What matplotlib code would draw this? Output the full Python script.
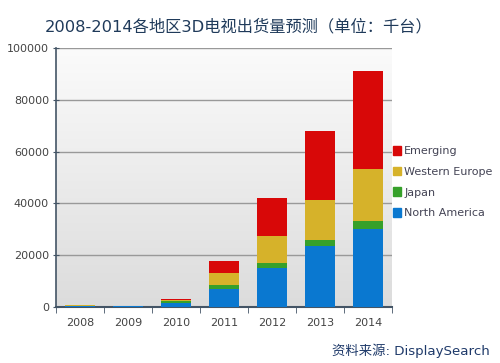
import matplotlib
matplotlib.use("Agg")
import matplotlib.pyplot as plt
import numpy as np
from matplotlib.patches import Patch
from matplotlib.colors import LinearSegmentedColormap

years = ["2008", "2009", "2010", "2011", "2012", "2013", "2014"]
north_america = [400, 300, 1700, 7000, 15200, 23700, 30000]
japan = [100, 100, 500, 1500, 1800, 2300, 3200]
western_europe = [400, 200, 500, 4500, 10500, 15500, 20000]
emerging = [0, 0, 600, 4900, 14500, 26500, 38000]

series = [("North America", north_america, "#0a78d0"),
          ("Japan", japan, "#36a02a"),
          ("Western Europe", western_europe, "#d6b22a"),
          ("Emerging", emerging, "#d80808")]

plt.rcParams['font.family'] = ['DejaVu Sans', 'Noto Sans CJK SC']

fig = plt.figure(figsize=(5.0, 3.63), dpi=100)
ax = fig.add_axes([0.112, 0.154, 0.672, 0.714])

x = np.arange(len(years))
bottom = np.zeros(len(years))
for name, vals, col in series:
    ax.bar(x, vals, width=0.63, bottom=bottom, color=col, label=name, zorder=3)
    bottom += np.array(vals)

ax.set_xlim(-0.5, 6.5)
ax.set_ylim(0, 100000)

grad = np.linspace(0, 1, 256).reshape(-1, 1)
cmap = LinearSegmentedColormap.from_list("bg", ["#dcdcdc", "#fbfbfb"])
ax.imshow(grad, extent=[-0.5, 6.5, 0, 100000], aspect='auto', cmap=cmap,
          origin='lower', zorder=0)

ax.set_yticks(np.arange(0, 100001, 20000))
ax.set_yticklabels([str(v) for v in range(0, 100001, 20000)], fontsize=8, color="#444444")
ax.yaxis.grid(True, color="#999999", linewidth=1.0, zorder=1)
ax.set_xticks(x)
ax.set_xticklabels(years, fontsize=8, color="#444444")
ax.set_xticks(np.arange(-0.5, 6.6, 1), minor=True)
ax.tick_params(axis='x', which='major', length=0, pad=8)
ax.tick_params(axis='x', which='minor', length=4, color="#445566", direction='out')
ax.tick_params(axis='y', length=4, color="#445566", direction='inout', pad=3)

for s in ["top", "right"]:
    ax.spines[s].set_visible(False)
ax.spines["left"].set_color("#445566")
ax.spines["bottom"].set_color("#445566")
ax.spines["left"].set_linewidth(1.2)
ax.spines["bottom"].set_linewidth(1.5)

handles = [Patch(color=c, label=n) for n, _, c in series][::-1]
fig.legend(handles=handles, loc='upper left', bbox_to_anchor=(0.765, 0.625),
           frameon=False, handlelength=0.8, handleheight=0.8,
           handletextpad=0.25, labelspacing=0.95, labelcolor="#444455",
           prop={'family': 'DejaVu Sans', 'size': 8})

fig.text(0.09, 0.928, "2008-2014各地区3D电视出货量预测（单位：千台）", fontsize=11.7,
         color="#1f3a5a", ha='left', va='center')
fig.text(0.98, 0.035, "资料来源: DisplaySearch", fontsize=9.6, color="#1f3a6a",
         ha='right', va='center')

fig.savefig("out.png", dpi=100)
